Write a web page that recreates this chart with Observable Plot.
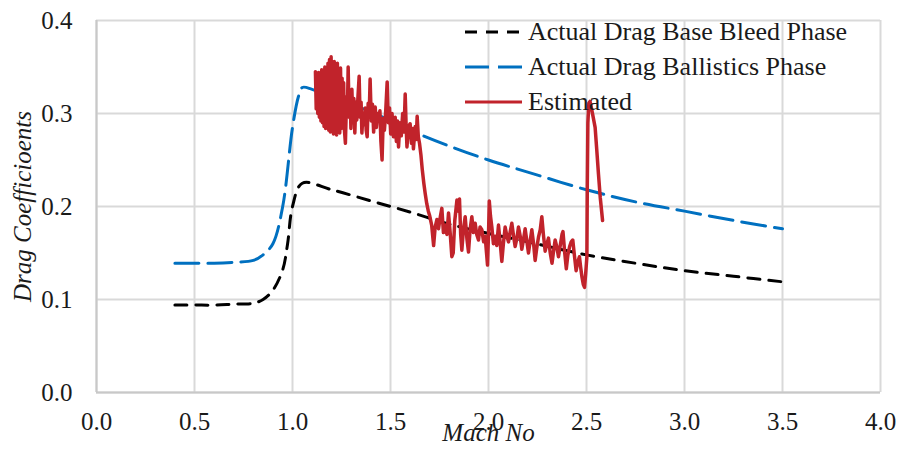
<!DOCTYPE html>
<html>
<head>
<meta charset="utf-8">
<script src="https://cdn.jsdelivr.net/npm/d3@7"></script>
<script src="https://cdn.jsdelivr.net/npm/@observablehq/plot@0.6"></script>
<style>
  html, body { margin: 0; padding: 0; background: #fff; }
  #chart { position: relative; width: 897px; height: 451px; font-family: "Liberation Serif", "Times New Roman", serif; }
  #legend { position: absolute; left: 465px; top: 14px; font-size: 26px; color: #1a1a1a; }
  #legend .row { display: flex; align-items: center; height: 35px; white-space: nowrap; }
  #legend svg { margin-right: 6px; }
</style>
</head>
<body>
<div id="chart"><div id="legend"></div></div>
<script>
// Drag coefficient vs Mach number — base bleed and ballistic phases, plus estimate
const bleedMach = [0.4, 0.5, 0.6, 0.7, 0.8, 0.85, 0.9, 0.95, 0.975, 1.0, 1.05, 1.2, 1.4, 1.6, 1.8, 2.0, 2.2, 2.5, 2.75, 3.0, 3.25, 3.5];
const bleedCd   = [0.094, 0.094, 0.094, 0.095, 0.096, 0.100, 0.110, 0.132, 0.160, 0.200, 0.225, 0.218, 0.206, 0.194, 0.181, 0.171, 0.162, 0.148, 0.139, 0.131, 0.125, 0.119];

const ballisticMach = [0.4, 0.5, 0.6, 0.7, 0.8, 0.85, 0.9, 0.95, 1.0, 1.03, 1.05, 1.1, 1.2, 1.4, 1.6, 1.8, 2.0, 2.2, 2.5, 2.75, 3.0, 3.25, 3.5];
const ballisticCd   = [0.139, 0.139, 0.139, 0.140, 0.142, 0.148, 0.160, 0.200, 0.285, 0.318, 0.328, 0.326, 0.318, 0.302, 0.282, 0.265, 0.250, 0.237, 0.218, 0.205, 0.195, 0.185, 0.176];

const estMach = [
  1.117, 1.121, 1.125, 1.129, 1.133, 1.137, 1.141, 1.145, 1.149, 1.153, 1.157, 1.161, 1.165, 1.169, 1.173, 1.177,
  1.181, 1.185, 1.189, 1.193, 1.197, 1.201, 1.205, 1.209, 1.213, 1.217, 1.221, 1.225, 1.229, 1.233, 1.237, 1.241,
  1.245, 1.249, 1.253, 1.257, 1.261, 1.265, 1.270, 1.276, 1.280, 1.284, 1.289, 1.294, 1.298, 1.303, 1.308, 1.313,
  1.318, 1.323, 1.328, 1.334, 1.340, 1.345, 1.350, 1.354, 1.360, 1.366, 1.371, 1.376, 1.381, 1.386, 1.391, 1.396,
  1.402, 1.408, 1.414, 1.422, 1.428, 1.434, 1.440, 1.446, 1.451, 1.457, 1.463, 1.469, 1.475, 1.483, 1.489, 1.495,
  1.501, 1.508, 1.515, 1.524, 1.530, 1.536, 1.541, 1.548, 1.555, 1.562, 1.569, 1.575, 1.580, 1.584, 1.592, 1.600,
  1.607, 1.612, 1.617, 1.626, 1.631, 1.636, 1.642, 1.648, 1.655, 1.662, 1.670, 1.677, 1.685, 1.693, 1.700, 1.710,
  1.720, 1.728, 1.737, 1.745, 1.755, 1.762, 1.770, 1.780, 1.788, 1.796, 1.805, 1.813, 1.820, 1.828, 1.839, 1.846,
  1.852, 1.858, 1.864, 1.872, 1.881, 1.890, 1.898, 1.906, 1.915, 1.923, 1.932, 1.940, 1.949, 1.957, 1.966, 1.975,
  1.983, 1.990, 1.995, 2.000, 2.004, 2.010, 2.017, 2.025, 2.034, 2.042, 2.051, 2.060, 2.068, 2.076, 2.085, 2.094,
  2.102, 2.110, 2.119, 2.128, 2.136, 2.145, 2.153, 2.162, 2.170, 2.179, 2.187, 2.196, 2.204, 2.212, 2.221, 2.230,
  2.238, 2.246, 2.255, 2.264, 2.272, 2.280, 2.289, 2.298, 2.306, 2.315, 2.324, 2.332, 2.340, 2.349, 2.357, 2.366,
  2.375, 2.380, 2.389, 2.397, 2.405, 2.414, 2.422, 2.430, 2.438, 2.447, 2.455, 2.464, 2.470, 2.477, 2.484, 2.490,
  2.496, 2.502, 2.504, 2.507, 2.512, 2.518, 2.525, 2.535, 2.544, 2.552, 2.561, 2.570, 2.582
];
const estCd = [
  0.345, 0.305, 0.340, 0.300, 0.344, 0.296, 0.338, 0.292, 0.347, 0.290, 0.342, 0.286, 0.350, 0.284, 0.346, 0.288,
  0.354, 0.282, 0.358, 0.280, 0.361, 0.283, 0.352, 0.278, 0.356, 0.280, 0.350, 0.277, 0.354, 0.281, 0.345, 0.279,
  0.349, 0.284, 0.338, 0.290, 0.333, 0.282, 0.268, 0.318, 0.300, 0.350, 0.296, 0.322, 0.284, 0.326, 0.290, 0.316,
  0.279, 0.312, 0.293, 0.318, 0.340, 0.296, 0.312, 0.279, 0.300, 0.288, 0.306, 0.282, 0.275, 0.311, 0.296, 0.337,
  0.292, 0.310, 0.280, 0.307, 0.285, 0.300, 0.293, 0.303, 0.270, 0.250, 0.295, 0.282, 0.300, 0.334, 0.290, 0.306,
  0.278, 0.300, 0.275, 0.296, 0.270, 0.292, 0.264, 0.290, 0.276, 0.300, 0.280, 0.321, 0.285, 0.264, 0.286, 0.289,
  0.268, 0.284, 0.262, 0.286, 0.272, 0.297, 0.275, 0.268, 0.256, 0.240, 0.225, 0.214, 0.203, 0.195, 0.190, 0.180,
  0.158, 0.178, 0.186, 0.176, 0.190, 0.198, 0.172, 0.180, 0.170, 0.193, 0.170, 0.146, 0.150, 0.185, 0.207, 0.195,
  0.208, 0.170, 0.153, 0.175, 0.189, 0.165, 0.151, 0.175, 0.189, 0.172, 0.182, 0.170, 0.164, 0.178, 0.175, 0.162,
  0.168, 0.150, 0.137, 0.170, 0.206, 0.190, 0.178, 0.160, 0.168, 0.158, 0.180, 0.160, 0.141, 0.160, 0.178, 0.168,
  0.162, 0.172, 0.182, 0.168, 0.157, 0.166, 0.178, 0.168, 0.154, 0.165, 0.176, 0.162, 0.150, 0.162, 0.175, 0.160,
  0.142, 0.155, 0.167, 0.175, 0.189, 0.170, 0.152, 0.160, 0.166, 0.150, 0.139, 0.152, 0.164, 0.156, 0.146, 0.158,
  0.170, 0.173, 0.150, 0.133, 0.148, 0.157, 0.162, 0.164, 0.148, 0.131, 0.140, 0.146, 0.135, 0.124, 0.116, 0.113,
  0.128, 0.146, 0.220, 0.290, 0.311, 0.313, 0.306, 0.295, 0.285, 0.262, 0.235, 0.210, 0.185
];

const xTicks = [0, 0.5, 1.0, 1.5, 2.0, 2.5, 3.0, 3.5, 4.0];
const yTicks = [0, 0.1, 0.2, 0.3, 0.4];
const xTitle = "Mach No";
const yTitle = "Drag Coefficioents";

const seriesNames = ["Actual Drag Base Bleed Phase", "Actual Drag Ballistics Phase", "Estimated"];
const seriesColors = ["#000000", "#0070c0", "#c1232b"];
const seriesDash = ["12,9", "24,9", null];

const zip = (xs, ys) => xs.map((x, i) => ({x, y: ys[i]}));
const bleed = zip(bleedMach, bleedCd);
const ballistic = zip(ballisticMach, ballisticCd);
const estimated = zip(estMach, estCd);

const chart = Plot.plot({
  width: 897,
  height: 451,
  marginLeft: 96,
  marginRight: 17,
  marginTop: 20,
  marginBottom: 59,
  style: {fontFamily: "Liberation Serif", fontSize: "25px", color: "#1a1a1a", background: "#fff"},
  x: {domain: [0, 4], ticks: xTicks, tickFormat: d3.format(".1f"), tickSize: 0, tickPadding: 20, label: null},
  y: {domain: [0, 0.4], ticks: yTicks, tickFormat: d3.format(".1f"), tickSize: 0, tickPadding: 24, label: null},
  marks: [
    Plot.gridX(xTicks, {stroke: "#d9d9d9", strokeOpacity: 1, strokeWidth: 2}),
    Plot.gridY(yTicks, {stroke: "#d9d9d9", strokeOpacity: 1, strokeWidth: 2}),
    Plot.ruleX([0], {stroke: "#c8c8c8", strokeWidth: 2}),
    Plot.ruleY([0], {stroke: "#c8c8c8", strokeWidth: 2}),
    Plot.line(bleed, {x: "x", y: "y", stroke: seriesColors[0], strokeWidth: 3, strokeDasharray: seriesDash[0], curve: "catmull-rom"}),
    Plot.line(ballistic, {x: "x", y: "y", stroke: seriesColors[1], strokeWidth: 3, strokeDasharray: seriesDash[1], curve: "catmull-rom"}),
    Plot.line(estimated, {x: "x", y: "y", stroke: seriesColors[2], strokeWidth: 3.5, strokeLinejoin: "round"}),
    Plot.text([xTitle], {frameAnchor: "bottom", textAnchor: "middle", dy: 48, fontFamily: "Liberation Serif", fontStyle: "italic", fontSize: 25, fill: "#1a1a1a"}),
    Plot.text([yTitle], {frameAnchor: "left", textAnchor: "middle", dx: -74, rotate: -90, fontFamily: "Liberation Serif", fontStyle: "italic", fontSize: 25, fill: "#1a1a1a"})
  ]
});

const host = document.getElementById("chart");
host.insertBefore(chart, host.firstChild);

// Legend drawn over the upper-right corner of the plot area
const legend = document.getElementById("legend");
seriesNames.forEach((name, i) => {
  const row = document.createElement("div");
  row.className = "row";
  const dash = seriesDash[i] ? ` stroke-dasharray="${seriesDash[i]}"` : "";
  row.innerHTML = `<svg width="57" height="10"><line x1="0" y1="5" x2="57" y2="5" stroke="${seriesColors[i]}" stroke-width="3"${dash}/></svg><span>${name}</span>`;
  legend.appendChild(row);
});
</script>
</body>
</html>
